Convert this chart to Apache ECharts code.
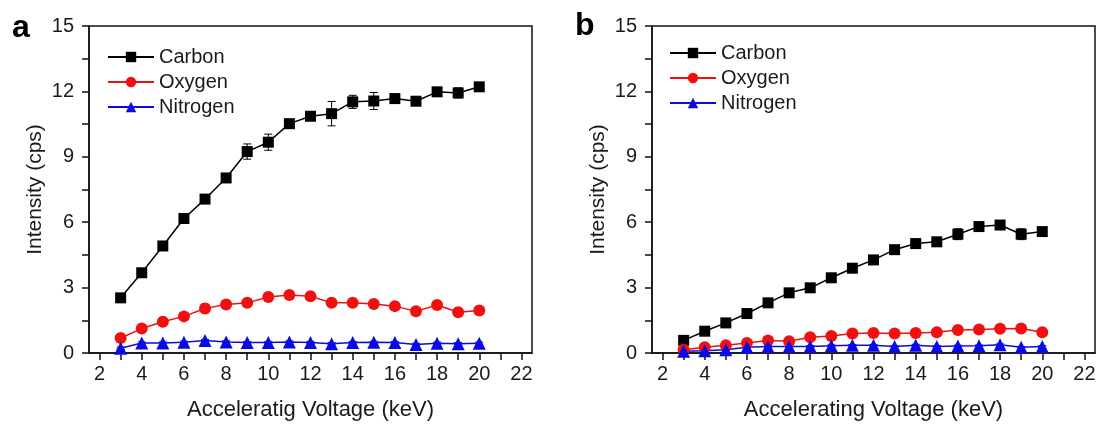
<!DOCTYPE html>
<html>
<head>
<meta charset="utf-8">
<script src="https://cdn.jsdelivr.net/npm/echarts@6/dist/echarts.min.js"></script>
<style>
html,body{margin:0;padding:0;background:#fff;}
#c{width:1099px;height:425px;}
</style>
</head>
<body>
<div id="c"></div>
<script>
// Accelerating voltage (keV)
const voltage = [3,4,5,6,7,8,9,10,11,12,13,14,15,16,17,18,19,20];
const xTicks = [2,4,6,8,10,12,14,16,18,20,22];
const xAllTicks = [2,3,4,5,6,7,8,9,10,11,12,13,14,15,16,17,18,19,20,21,22];

// Panel a
const carbonA   = [2.53,3.68,4.91,6.17,7.06,8.03,9.24,9.67,10.52,10.86,10.98,11.52,11.56,11.67,11.55,11.98,11.93,12.21];
const carbonAErr= [0.1,0.1,0.1,0.1,0.1,0.1,0.35,0.37,0.1,0.15,0.56,0.3,0.39,0.1,0.1,0.15,0.23,0.1];
const oxygenA   = [0.69,1.12,1.43,1.68,2.04,2.23,2.30,2.57,2.66,2.60,2.30,2.30,2.25,2.15,1.91,2.20,1.87,1.95];
const oxygenAErr= [0.08,0.08,0.1,0.15,0.2,0.1,0.08,0.1,0.08,0.08,0.08,0.1,0.08,0.08,0.08,0.08,0.08,0.08];
const nitrogenA = [0.22,0.46,0.46,0.49,0.57,0.51,0.48,0.48,0.51,0.48,0.43,0.48,0.49,0.48,0.39,0.45,0.43,0.45];
const nitrogenAErr=[0.05,0.05,0.05,0.05,0.05,0.05,0.05,0.05,0.05,0.05,0.05,0.05,0.05,0.05,0.05,0.05,0.05,0.05];

// Panel b
const carbonB   = [0.58,1.00,1.38,1.81,2.30,2.76,2.99,3.45,3.89,4.27,4.74,5.02,5.10,5.45,5.80,5.87,5.45,5.57];
const carbonBErr= [0.05,0.05,0.05,0.05,0.08,0.08,0.08,0.08,0.15,0.1,0.1,0.1,0.2,0.25,0.1,0.1,0.25,0.1];
const oxygenB   = [0.15,0.26,0.35,0.46,0.57,0.54,0.72,0.78,0.89,0.92,0.89,0.92,0.95,1.05,1.08,1.11,1.12,0.95];
const oxygenBErr= [0.05,0.05,0.05,0.05,0.05,0.05,0.05,0.05,0.05,0.05,0.05,0.05,0.05,0.05,0.05,0.05,0.05,0.05];
const nitrogenB = [0.08,0.10,0.15,0.26,0.30,0.30,0.30,0.33,0.35,0.35,0.30,0.36,0.30,0.32,0.33,0.38,0.26,0.30];
const nitrogenBErr=[0.04,0.04,0.04,0.04,0.04,0.04,0.04,0.04,0.04,0.04,0.04,0.04,0.04,0.04,0.04,0.04,0.04,0.04];

const seriesNames = ['Carbon','Oxygen','Nitrogen'];
const colors = ['#000000','#f01010','#0a0ae6'];
const symbols = ['rect','circle','triangle'];
const symbolSizes = [11,12,13];

const FONT = 'Liberation Sans, Arial, sans-serif';
const TXT = '#1a1a1a';

function pairs(vals){ return voltage.map((v,i)=>[v, vals[i]]); }

function errSeries(vals, errs, gi, color){
  return {
    type:'custom', xAxisIndex:gi, yAxisIndex:gi, silent:true, z:1,
    data: voltage.map((v,i)=>[v, vals[i], errs[i]]),
    renderItem: function(params, api){
      const x = api.value(0), y = api.value(1), e = api.value(2);
      const top = api.coord([x, y+e]);
      const bot = api.coord([x, y-e]);
      const hw = 4;
      const st = {stroke: color, lineWidth: 1};
      return {type:'group', children:[
        {type:'line', shape:{x1:top[0],y1:top[1],x2:bot[0],y2:bot[1]}, style:st},
        {type:'line', shape:{x1:top[0]-hw,y1:top[1],x2:top[0]+hw,y2:top[1]}, style:st},
        {type:'line', shape:{x1:bot[0]-hw,y1:bot[1],x2:bot[0]+hw,y2:bot[1]}, style:st}
      ]};
    }
  };
}

function lineSeries(name, vals, gi, k){
  return {
    name: name, type:'line', xAxisIndex:gi, yAxisIndex:gi, z:3,
    data: pairs(vals),
    symbol: symbols[k], symbolSize: symbolSizes[k],
    showAllSymbol:true,
    lineStyle:{color:colors[k], width:1.5},
    itemStyle:{color:colors[k], borderColor:colors[k], borderWidth:0},
    animation:false
  };
}

const grids = [
  {left:89, top:26, width:443, height:327, show:true, borderColor:'#111', borderWidth:1.5, backgroundColor:'transparent', containLabel:false, outerBoundsMode:'none'},
  {left:652, top:26, width:443, height:327, show:true, borderColor:'#111', borderWidth:1.5, backgroundColor:'transparent', containLabel:false, outerBoundsMode:'none'}
];

function xAx(gi, name){
  return {
    gridIndex:gi, type:'value', min:1.5, max:22.5,
    name:name, nameLocation:'middle', nameGap:46,
    nameTextStyle:{fontFamily:FONT, fontSize:22, color:TXT},
    axisLine:{show:true, onZero:false, lineStyle:{color:'#111', width:1.5}},
    axisTick:{show:true, customValues:xAllTicks, inside:false, length:7, lineStyle:{color:'#111', width:1.5}},
    axisLabel:{show:true, customValues:xTicks, margin:11, fontFamily:FONT, fontSize:20, color:TXT},
    splitLine:{show:false}
  };
}
function yAx(gi){
  return {
    gridIndex:gi, type:'value', min:0, max:15, interval:3,
    name:'Intensity (cps)', nameLocation:'middle', nameGap:43,
    nameTextStyle:{fontFamily:FONT, fontSize:21, color:TXT},
    axisLine:{show:true, lineStyle:{color:'#111', width:1.5}},
    axisTick:{show:true, inside:false, length:7, lineStyle:{color:'#111', width:1.5}},
    minorTick:{show:true, splitNumber:2, length:7, lineStyle:{color:'#111', width:1.5}},
    axisLabel:{margin:15, fontFamily:FONT, fontSize:20, color:TXT},
    splitLine:{show:false}
  };
}

function legend(left, top){
  return {
    orient:'vertical', left:left, top:top,
    itemWidth:46, itemHeight:13, itemGap:5,
    textStyle:{fontFamily:FONT, fontSize:20, color:TXT},
    data: seriesNames.map(n=>({name:n})),
    selectedMode:false
  };
}

const series = [
  errSeries(carbonA, carbonAErr, 0, colors[0]),
  errSeries(oxygenA, oxygenAErr, 0, colors[1]),
  errSeries(nitrogenA, nitrogenAErr, 0, colors[2]),
  errSeries(carbonB, carbonBErr, 1, colors[0]),
  errSeries(oxygenB, oxygenBErr, 1, colors[1]),
  errSeries(nitrogenB, nitrogenBErr, 1, colors[2]),
  lineSeries('Carbon', carbonA, 0, 0),
  lineSeries('Oxygen', oxygenA, 0, 1),
  lineSeries('Nitrogen', nitrogenA, 0, 2),
  lineSeries('Carbon', carbonB, 1, 0),
  lineSeries('Oxygen', oxygenB, 1, 1),
  lineSeries('Nitrogen', nitrogenB, 1, 2)
];

const chart = echarts.init(document.getElementById('c'), null, {renderer:'canvas'});
chart.setOption({
  backgroundColor:'#ffffff',
  animation:false,
  grid: grids,
  xAxis: [xAx(0,'Acceleratig Voltage (keV)'), xAx(1,'Accelerating Voltage (keV)')],
  yAxis: [yAx(0), yAx(1)],
  legend: [legend(102, 42), legend(664, 38)],
  graphic: [
    {type:'text', left:12, top:12, style:{text:'a', font:'bold 32px '+FONT, fill:'#000'}},
    {type:'text', left:575, top:10, style:{text:'b', font:'bold 32px '+FONT, fill:'#000'}}
  ],
  series: series
});
</script>
</body>
</html>
